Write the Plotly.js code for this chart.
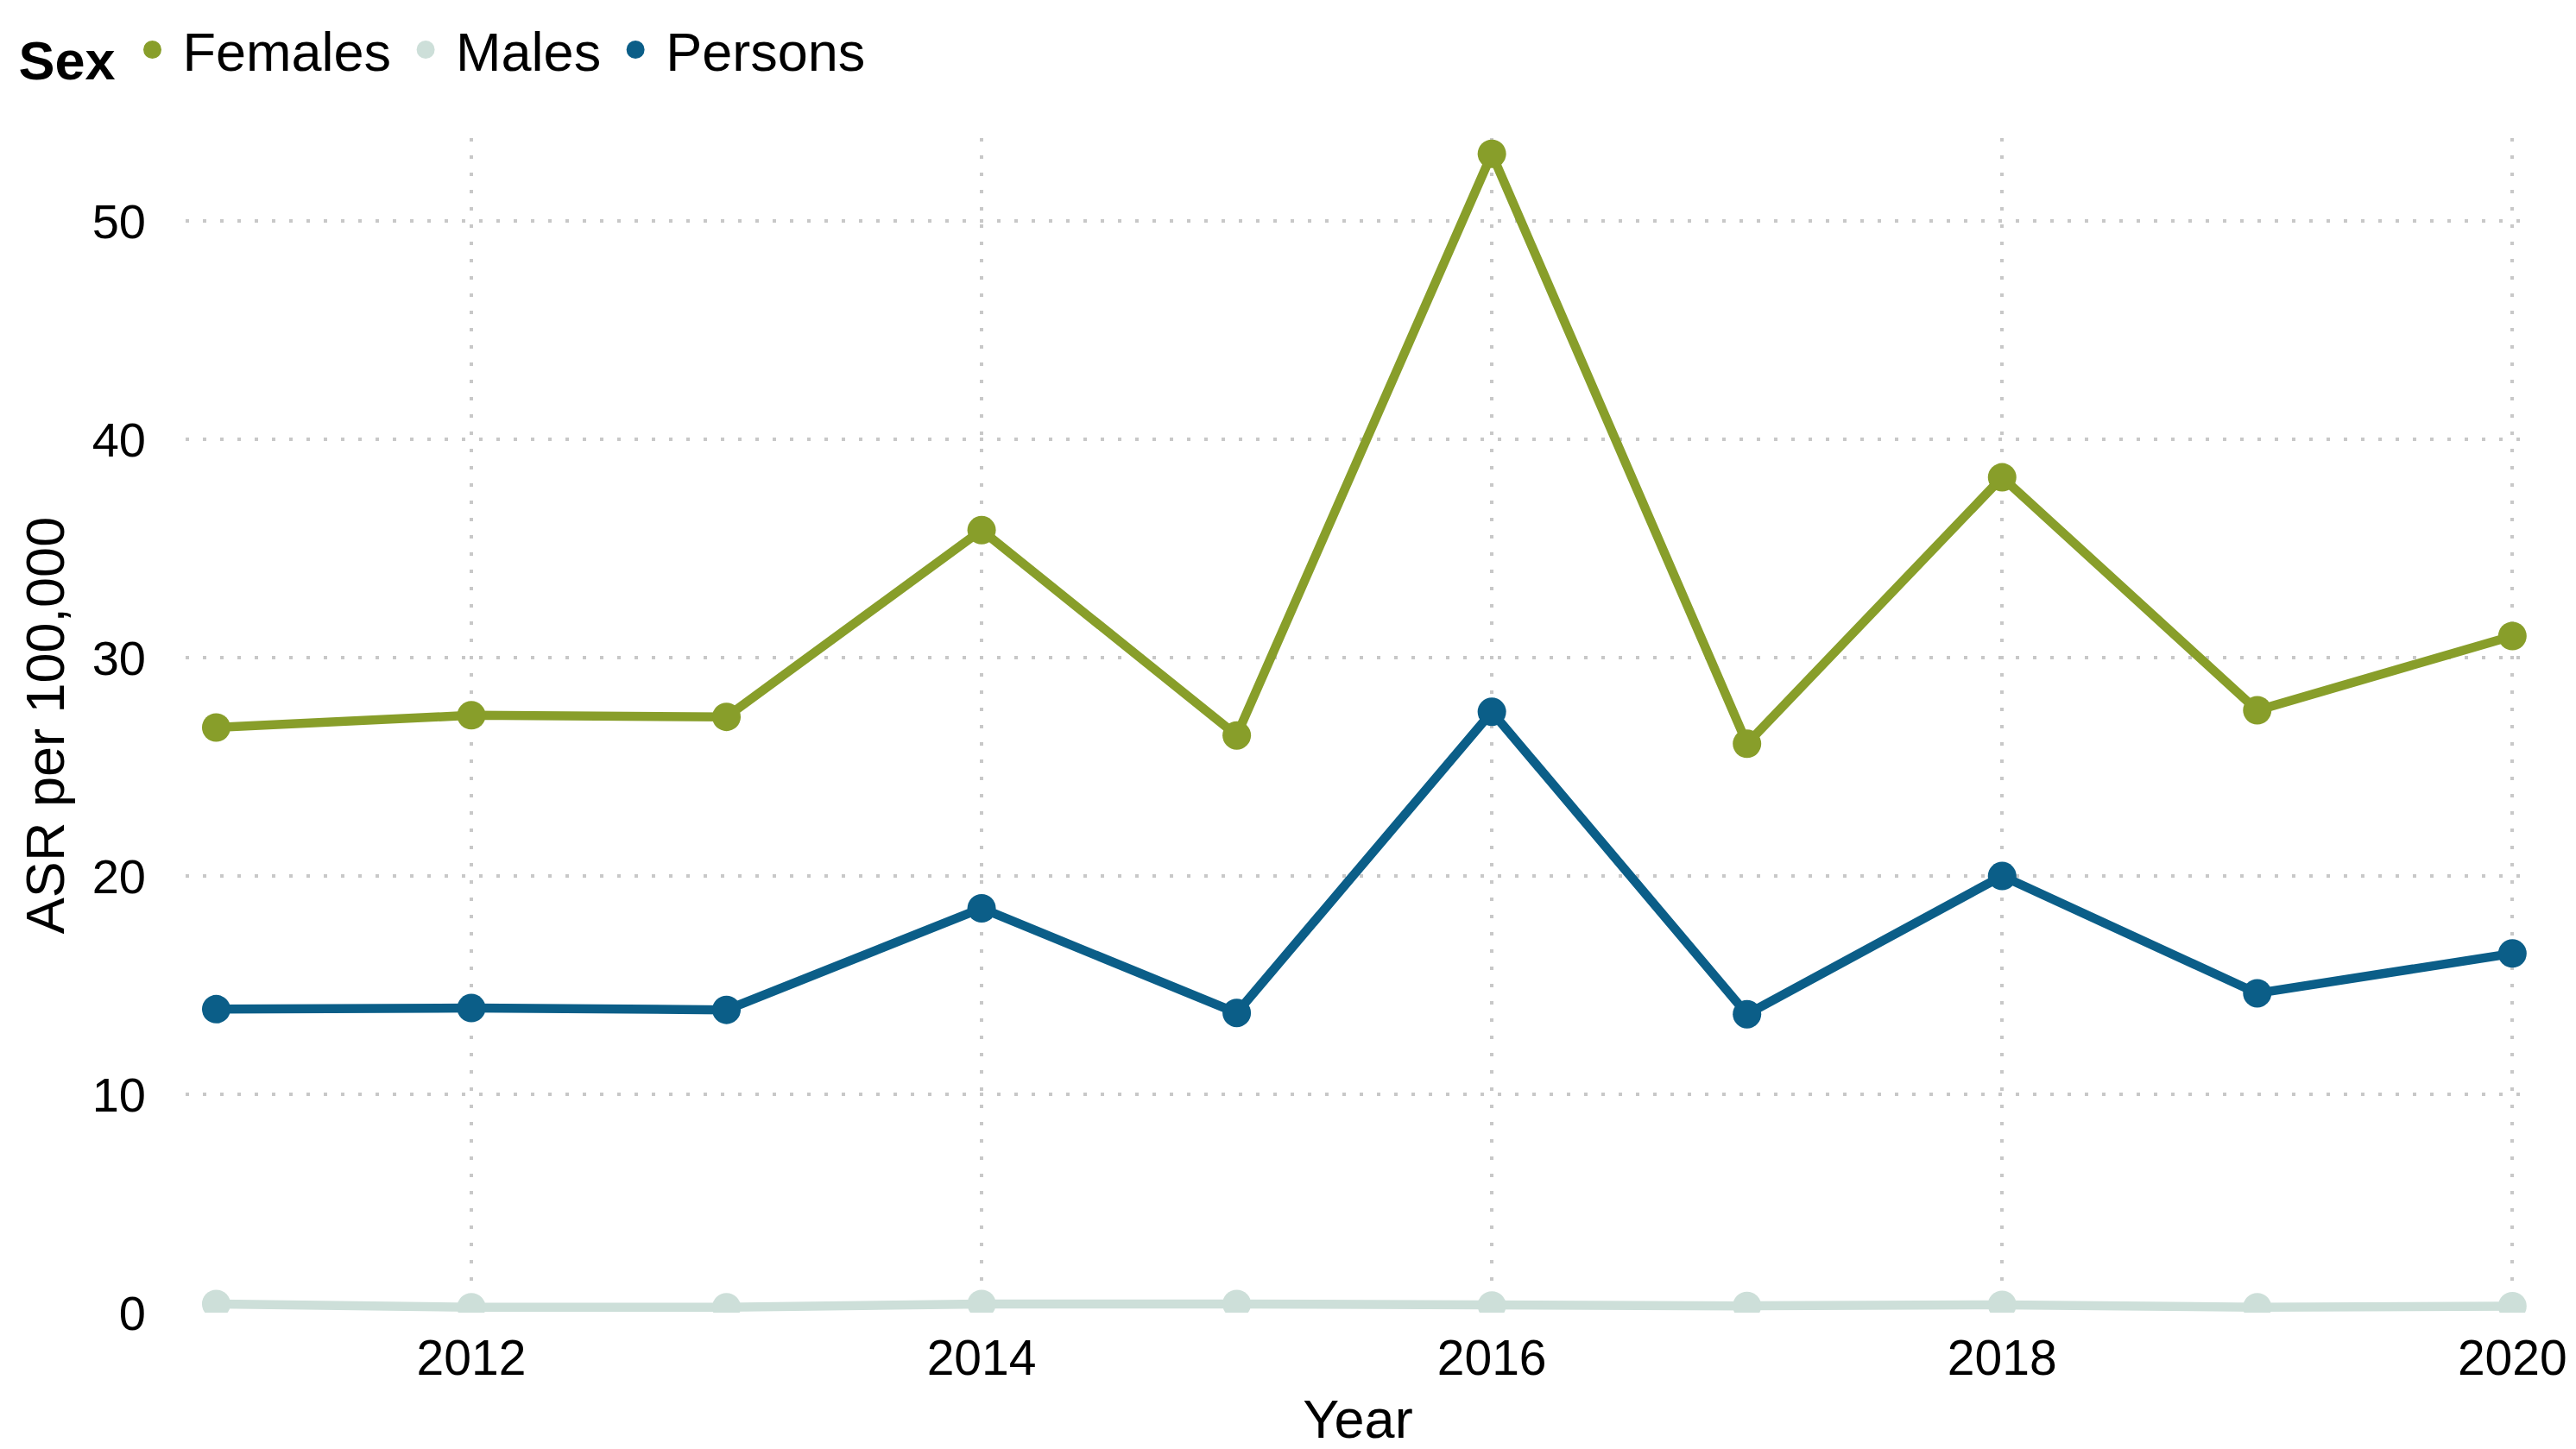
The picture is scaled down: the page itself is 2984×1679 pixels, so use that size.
<!DOCTYPE html>
<html>
<head>
<meta charset="utf-8">
<script src="https://cdn.plot.ly/plotly-3.0.1.min.js"></script>
<style>
  html, body { margin: 0; padding: 0; background: #ffffff; }
  #chart { width: 2984px; height: 1679px; }
</style>
</head>
<body>
<div id="chart"></div>
<script>
// ---- Data ----
const years = [2011, 2012, 2013, 2014, 2015, 2016, 2017, 2018, 2019, 2020];
const females = [26.80, 27.36, 27.29, 35.84, 26.44, 53.08, 26.06, 38.26, 27.59, 30.99];
const males   = [0.40, 0.25, 0.25, 0.40, 0.40, 0.33, 0.31, 0.36, 0.25, 0.30];
const persons = [13.90, 13.95, 13.87, 18.52, 13.73, 27.52, 13.67, 20.00, 14.63, 16.45];

const seriesNames = ["Females", "Males", "Persons"];
const seriesValues = [females, males, persons];
const seriesColors = ["#889e2a", "#cddfd9", "#0b5e88"];

const xTickVals = [2012, 2014, 2016, 2018, 2020];
const yTickVals = [0, 10, 20, 30, 40, 50];

const FONT = "Liberation Sans, Arial, Helvetica, sans-serif";

const traces = [];
seriesNames.forEach((name, i) => {
  traces.push({
    type: "scatter",
    mode: "lines+markers",
    name: name,
    x: years,
    y: seriesValues[i],
    line: { color: seriesColors[i], width: 10.5 },
    marker: { color: seriesColors[i], size: 33 },
    showlegend: false,
    legendgroup: name
  });
});
// legend-only entries (markers without line, like the reference)
seriesNames.forEach((name, i) => {
  traces.push({
    type: "scatter",
    mode: "markers",
    name: name,
    x: [null],
    y: [null],
    marker: { color: seriesColors[i], size: 33, line: { color: seriesColors[i], width: 5 } },
    showlegend: true,
    legendgroup: name
  });
});

const layout = {
  width: 2984,
  height: 1679,
  paper_bgcolor: "#ffffff",
  plot_bgcolor: "#ffffff",
  font: { family: FONT, color: "#000000", size: 56 },
  margin: { l: 215, r: 53, t: 160, b: 158, pad: 0 },
  showlegend: true,
  legend: {
    orientation: "h",
    xref: "container",
    yref: "container",
    x: 0.0065,
    y: 0.994,
    xanchor: "left",
    yanchor: "top",
    font: { family: FONT, size: 63, color: "#000000" },
    title: { text: "<b>Sex</b>", side: "left", font: { family: FONT, size: 63, color: "#000000" } },
    itemwidth: 60,
    tracegroupgap: 0,
    bgcolor: "rgba(0,0,0,0)"
  },
  xaxis: {
    range: [2010.88, 2020.07],
    tickmode: "array",
    tickvals: xTickVals,
    ticktext: xTickVals.map(String),
    showgrid: true,
    gridcolor: "#c8c8c8",
    gridwidth: 4,
    griddash: "4px,16px",
    zeroline: false,
    showline: false,
    ticks: "",
    ticklabelstandoff: 14,
    tickfont: { family: FONT, size: 57, color: "#000000" },
    title: { text: "Year", font: { family: FONT, size: 63, color: "#000000" }, standoff: 18 }
  },
  yaxis: {
    range: [0, 53.8],
    tickmode: "array",
    tickvals: yTickVals,
    ticktext: yTickVals.map(String),
    showgrid: true,
    gridcolor: "#c8c8c8",
    gridwidth: 4,
    griddash: "4px,16px",
    zeroline: false,
    showline: false,
    ticks: "",
    ticklabelstandoff: 45,
    tickfont: { family: FONT, size: 56, color: "#000000" },
    title: { text: "ASR per 100,000", font: { family: FONT, size: 63, color: "#000000" }, standoff: 11 }
  }
};

Plotly.newPlot("chart", traces, layout, { displayModeBar: false, responsive: false });
</script>
</body>
</html>
